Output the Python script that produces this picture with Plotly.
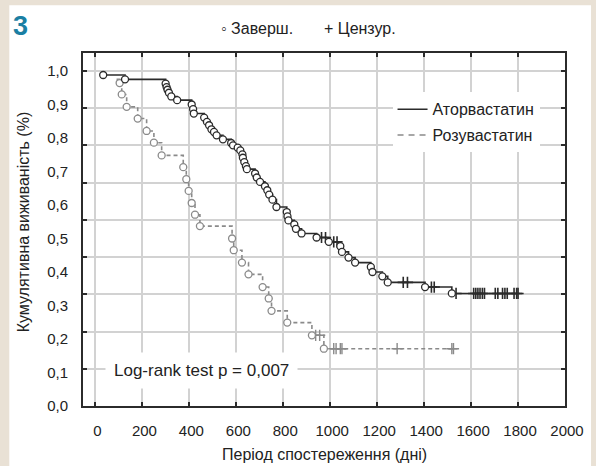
import plotly.graph_objects as go

# ---------------- data ----------------
# Atorvastatin: event times (days) and survival after each event
ator_event_days = [33, 126, 299, 303, 307, 313, 323, 348, 410, 416, 419, 463, 475, 484, 494, 505, 516,
                   543, 578, 586, 606, 617, 626, 628, 634, 641, 645, 680, 687, 701, 722, 732, 740, 754,
                   771, 815, 818, 822, 847, 854, 878, 942, 994, 1043, 1050, 1078, 1106, 1173, 1180,
                   1222, 1245, 1404, 1518]
ator_event_surv = [0.988, 0.975, 0.962, 0.952, 0.944, 0.935, 0.924, 0.913, 0.900, 0.886, 0.873, 0.861,
                   0.848, 0.838, 0.826, 0.818, 0.808, 0.796, 0.785, 0.778, 0.771, 0.763, 0.751, 0.741,
                   0.728, 0.716, 0.707, 0.694, 0.682, 0.669, 0.656, 0.644, 0.631, 0.616, 0.594, 0.579,
                   0.566, 0.554, 0.542, 0.529, 0.515, 0.503, 0.490, 0.477, 0.460, 0.443, 0.428, 0.415,
                   0.400, 0.387, 0.369, 0.355, 0.336]
ator_censor_days = [963, 980, 1015, 1029, 1311, 1329, 1431, 1443, 1536, 1611, 1620, 1629, 1638, 1648,
                    1657, 1703, 1714, 1734, 1744, 1754, 1783, 1794, 1800]

# Rosuvastatin
rosu_event_days = [103, 112, 133, 180, 218, 249, 282, 374, 387, 397, 410, 424, 445, 582, 589, 624, 652,
                   712, 738, 750, 817, 922, 973]
rosu_event_surv = [0.964, 0.930, 0.893, 0.858, 0.821, 0.786, 0.748, 0.713, 0.677, 0.642, 0.606, 0.571,
                   0.537, 0.500, 0.465, 0.428, 0.393, 0.355, 0.321, 0.284, 0.249, 0.211, 0.171]
rosu_start = (90, 0.975)
rosu_censor_days = [938, 955, 1015, 1025, 1043, 1050, 1285, 1518, 1525]

x_ticks = [0, 200, 400, 600, 800, 1000, 1200, 1400, 1600, 1800, 2000]
y_label_vals = [0.0, 0.1, 0.2, 0.3, 0.4, 0.5, 0.6, 0.7, 0.8, 0.9, 1.0]
y_label_text = ["0,0", "0,1", "0,2", "0,3", "0,4", "0,5", "0,6", "0,7", "0,8", "0,9", "1,0"]
y_grid_vals = [0, 1/9, 2/9, 3/9, 4/9, 5/9, 6/9, 7/9, 8/9, 1.0]

names = ["Аторвастатин", "Розувастатин"]

# ---------------- helpers ----------------
def surv_at(t, days, surv, start):
    s = start
    for d, v in zip(days, surv):
        if d <= t:
            s = v
    return s

def curve(days, surv, cens, start_pt):
    pts = [start_pt] + list(zip(days, surv))
    for c in cens:
        pts.append((c, surv_at(c, days, surv, start_pt[1])))
    pts.sort()
    return [p[0] for p in pts], [p[1] for p in pts]

FONT = "Liberation Sans, Arial, sans-serif"
DARK = "#2b2b2b"
GRAY = "#8a8a8a"

fig = go.Figure()

# Atorvastatin
ax, ay = curve(ator_event_days, ator_event_surv, ator_censor_days, (ator_event_days[0], ator_event_surv[0]))
fig.add_trace(go.Scatter(x=ax, y=ay, mode="lines", line=dict(color=DARK, width=1.6, shape="hv"),
                         showlegend=False, hoverinfo="skip"))
# Rosuvastatin
rx, ry = curve(rosu_event_days, rosu_event_surv, rosu_censor_days, rosu_start)
fig.add_trace(go.Scatter(x=rx, y=ry, mode="lines", line=dict(color=GRAY, width=1.6, shape="hv", dash="4px,3px"),
                         showlegend=False, hoverinfo="skip"))

# censor marks
fig.add_trace(go.Scatter(x=rosu_censor_days,
                         y=[surv_at(c, rosu_event_days, rosu_event_surv, rosu_start[1]) for c in rosu_censor_days],
                         mode="markers", marker=dict(symbol="cross-thin", size=8, line=dict(color=GRAY, width=1.4)),
                         showlegend=False, hoverinfo="skip"))
fig.add_trace(go.Scatter(x=ator_censor_days,
                         y=[surv_at(c, ator_event_days, ator_event_surv, 1.0) for c in ator_censor_days],
                         mode="markers", marker=dict(symbol="cross-thin", size=8, line=dict(color=DARK, width=1.6)),
                         showlegend=False, hoverinfo="skip"))

# event circles
fig.add_trace(go.Scatter(x=rosu_event_days, y=rosu_event_surv, mode="markers",
                         marker=dict(symbol="circle", size=7, color="white", line=dict(color=GRAY, width=1.3)),
                         showlegend=False, hoverinfo="skip"))
fig.add_trace(go.Scatter(x=ator_event_days, y=ator_event_surv, mode="markers",
                         marker=dict(symbol="circle", size=7, color="white", line=dict(color=DARK, width=1.3)),
                         showlegend=False, hoverinfo="skip"))

# legend-only traces
fig.add_trace(go.Scatter(x=[None], y=[None], mode="lines", name=names[0], legendgroup="a",
                         line=dict(color=DARK, width=1.6)))
fig.add_trace(go.Scatter(x=[None], y=[None], mode="lines", name=names[1], legendgroup="b",
                         line=dict(color=GRAY, width=1.6, dash="6px,5px")))

# y labels carrier (overlay axis)
fig.add_trace(go.Scatter(x=[None], y=[None], yaxis="y2", showlegend=False, hoverinfo="skip"))

PL, PR, PT, PB = 83, 573.5, 52.7, 405.7
W, H = 596, 466
def px(xp):
    return (xp - PL) / (PR - PL)
def py(yp):
    return (PB - yp) / (PB - PT)

Y_RANGE = [0, 1.0537]

fig.update_layout(
    width=W, height=H,
    margin=dict(l=PL, r=W - PR, t=PT, b=H - PB, pad=0),
    paper_bgcolor="#e9e1d5",
    plot_bgcolor="white",
    font=dict(family=FONT, color="#222", size=15),
    xaxis=dict(range=[-53, 2000], tickvals=x_ticks, ticktext=[str(v) for v in x_ticks],
               showgrid=True, gridcolor="#d2d2d2", gridwidth=1.5, zeroline=False,
               showline=True, linecolor=DARK, linewidth=2, mirror="ticks",
               ticks="inside", ticklen=4, tickwidth=1.5, tickcolor=DARK,
               tickfont=dict(size=15, color="#222"), ticklabelstandoff=10, ticklabelshift=2),
    yaxis=dict(range=Y_RANGE, tickvals=y_grid_vals, ticktext=[""] * len(y_grid_vals),
               showgrid=True, gridcolor="#d2d2d2", gridwidth=1.5, zeroline=False,
               showline=True, linecolor=DARK, linewidth=2, mirror="ticks",
               ticks="inside", ticklen=4, tickwidth=1.5, tickcolor=DARK),
    yaxis2=dict(range=Y_RANGE, overlaying="y", side="left", tickvals=y_label_vals, ticktext=y_label_text,
                showgrid=False, zeroline=False, showline=False, ticks="",
                tickfont=dict(size=15, color="#222"), ticklabelstandoff=14),
    legend=dict(x=px(398), y=py(92), xanchor="left", yanchor="top", bgcolor="white", borderwidth=0,
                font=dict(size=16, color="#222"), tracegroupgap=2),
    showlegend=True,
)

# white panel on beige
fig.add_shape(type="rect", xref="paper", yref="paper", x0=px(8), x1=px(600), y0=py(5), y1=py(470),
              fillcolor="white", line=dict(width=0), layer="below")

ann = [
    dict(text="<b>3</b>", x=px(10), y=py(26), xanchor="left", yanchor="middle",
         font=dict(size=27, color="#1a7fa3")),
    dict(text="◦ Заверш.", x=px(221), y=py(28), xanchor="left", yanchor="middle",
         font=dict(size=16, color="#222")),
    dict(text="+ Цензур.", x=px(326), y=py(28), xanchor="left", yanchor="middle",
         font=dict(size=16, color="#222")),
    dict(text="Період спостереження (дні)", x=px(329), y=py(454), xanchor="center", yanchor="middle",
         font=dict(size=16, color="#222")),
    dict(text="Кумулятивна виживаність (%)", x=px(22), y=py(222), xanchor="center", yanchor="middle",
         textangle=-90, font=dict(size=16, color="#222")),
    dict(text="Log-rank test p = 0,007", x=px(204), y=py(370), xanchor="center", yanchor="middle",
         font=dict(size=17, color="#222"), bgcolor="white", borderpad=8),
]
for a in ann:
    fig.add_annotation(xref="paper", yref="paper", showarrow=False, **a)

fig.write_html("out.html")
